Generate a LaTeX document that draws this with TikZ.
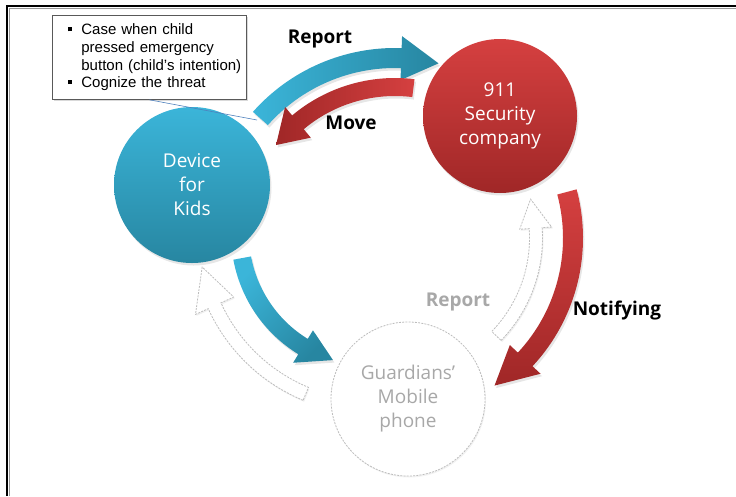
\documentclass[tikz,border=0pt]{standalone}
\usepackage{fontspec}
\setmainfont{Open Sans}
\newfontfamily\notefont{Liberation Sans}
\usetikzlibrary{shadows,calc}
\definecolor{blueL}{HTML}{3BB5D9}
\definecolor{blueD}{HTML}{2786A1}
\definecolor{redL}{HTML}{D54040}
\definecolor{redD}{HTML}{A02727}
\definecolor{ghost}{HTML}{BDBDBD}
\definecolor{ghosttext}{HTML}{A8A8A8}
\definecolor{pointer}{HTML}{4F81BD}
% #1 centre name, #2 radius, #3 body width, #4 tail angle, #5 head base angle, #6 tip angle, #7 head half width, #8 style
\newcommand\bentarrow[8]{%
  \pgfmathsetmacro\ArRo{#2+#3/2}\pgfmathsetmacro\ArRi{#2-#3/2}%
  \pgfmathsetmacro\ArHo{#2+#7}\pgfmathsetmacro\ArHi{#2-#7}%
  \path[#8] ([shift={(#4:\ArRo pt)}]#1) arc[start angle=#4, end angle=#5, radius=\ArRo pt]
    -- ([shift={(#5:\ArHo pt)}]#1) -- ([shift={(#6:#2 pt)}]#1) -- ([shift={(#5:\ArHi pt)}]#1)
    -- ([shift={(#5:\ArRi pt)}]#1) arc[start angle=#5, end angle=#4, radius=\ArRi pt] -- cycle;}
\newcommand\nb{\makebox[25pt][l]{\hspace{12pt}\raisebox{3.5pt}{\rule{4pt}{4pt}}}}
\newcommand\noteindent{\hspace*{25pt}}
\tikzset{
  hub/.style={circle, minimum size=#1, inner sep=0pt, align=center,
    font=\fontsize{19}{24}\selectfont, text=white},
  softshadow/.style={drop shadow={opacity=0.2, shadow xshift=1.5pt, shadow yshift=-2.5pt}},
  ghostarrow/.style={draw=ghost, fill=white, line width=0.8pt, dash pattern=on 2pt off 1.2pt,
    drop shadow={opacity=0.12, shadow xshift=1pt, shadow yshift=-1.5pt}},
  lab/.style={font=\bfseries\fontsize{19}{23}\selectfont, inner sep=0pt},
  notebox/.style={draw=black!65, fill=white, line width=0.8pt, text width=186pt, inner xsep=4pt,
    inner ysep=0pt, minimum height=84pt, align=left, font=\notefont\fontsize{15}{17.6}\selectfont,
    drop shadow={opacity=0.3, shadow xshift=1.5pt, shadow yshift=-1.5pt}}
}
\begin{document}
\begin{tikzpicture}
\useasboundingbox (0,0) rectangle (736pt,-496pt);
% frame
\draw[black!40, line width=1pt] (9.5pt,-496pt) -- (9.5pt,-8.5pt) -- (736pt,-8.5pt);
\draw[black, line width=2pt] (7pt,-496pt) -- (7pt,-6pt) -- (736pt,-6pt);
\coordinate (O1) at (395pt,-238pt);
\coordinate (O2) at (372pt,-234pt);
% hollow arrows
\bentarrow{O1}{141}{13}{-44}{4}{16}{16}{ghostarrow}
\bentarrow{O2}{173}{14}{247.5}{204.5}{191}{21}{ghostarrow}
% coloured arrows
\bentarrow{O1}{180}{20}{138.4}{88}{76}{22}{softshadow, left color=blueL, right color=blueD}
\bentarrow{O1}{151}{18}{83}{130}{142}{20}{softshadow, left color=redD, right color=redL}
\bentarrow{O1}{178}{20}{15}{-43}{-56}{21}{softshadow, top color=redL, bottom color=redD}
\bentarrow{O2}{132}{18}{190.5}{238.5}{252.8}{19}{softshadow, top color=blueL, bottom color=blueD, shading angle=45}
% circles
\node[hub=156pt, top color=blueL, bottom color=blueD, softshadow] (kids) at (192pt,-185pt) {Device\\for\\Kids};
\node[hub=154pt, top color=redL, bottom color=redD, softshadow] (sec) at (500pt,-116pt) {911\\Security\\company};
\node[hub=154pt, fill=white, draw=ghost, line width=0.8pt, dash pattern=on 2pt off 1.2pt, text=ghosttext,
  drop shadow={opacity=0.1, shadow xshift=1pt, shadow yshift=-1.5pt}] (guard) at (408pt,-399pt) {Guardians’\\Mobile\\phone};
% labels
\node[lab] (rep1) at (320pt,-39pt) {Report};
\node[lab] (move) at (351pt,-123pt) {Move};
\node[lab] (notif) at (617pt,-311pt) {Notifying};
\node[lab, text=ghosttext] (rep2) at (458pt,-302pt) {Report};
% callout
\node[notebox, anchor=north west] (note) at (52pt,-15pt)
  {\nb Case when child\\\noteindent pressed emergency\\\noteindent button (child’s intention)\\\nb Cognize the threat};
\coordinate (ptr) at (257pt,-120pt);
\draw[pointer, line width=0.6pt] (note.south) -- (ptr);
\end{tikzpicture}
\end{document}
